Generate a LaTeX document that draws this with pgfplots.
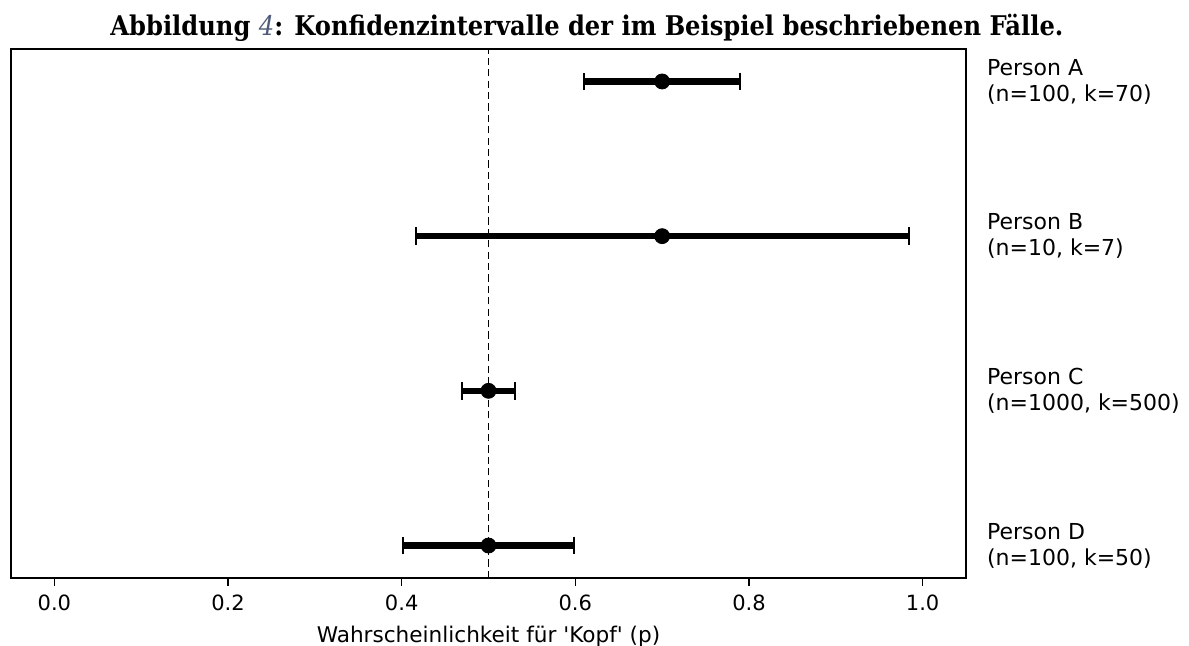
\documentclass[border=0pt]{standalone}
\usepackage{pgfplots}
\pgfplotsset{compat=1.18}
\usepackage{graphicx}
\usepackage{fontspec}
\setmainfont{DejaVu Sans}[Ligatures=TeXOff]
\newfontfamily\titlefont{DejaVu Serif}
\definecolor{refblue}{HTML}{4F5B7A}
\begin{document}
\begin{tikzpicture}
\path[use as bounding box] (0,0) rectangle (594.5pt,323pt);
\node[anchor=base west, inner sep=0pt] at (55pt,305pt)
  {\resizebox{476.5pt}{!}{\scalebox{1}[1.12]{\titlefont\bfseries\fontsize{12.5}{15}\selectfont Abbildung {\color{refblue}\mdseries\itshape 4}: Konfidenzintervalle der im Beispiel beschriebenen Fälle.}}};
\begin{axis}[
  at={(5.5pt,34pt)}, anchor=south west,
  scale only axis, width=477.5pt, height=264.5pt,
  xmin=-0.05, xmax=1.05, ymin=-0.21, ymax=3.21,
  axis line style={line width=0.8pt},
  xtick={0,0.2,0.4,0.6,0.8,1.0},
  xticklabels={0.0,0.2,0.4,0.6,0.8,1.0},
  xtick pos=bottom, tick align=outside,
  major tick length=3.85pt,
  every tick/.style={black, line width=0.8pt},
  xticklabel style={font=\fontsize{10.5}{12.6}\selectfont, inner sep=0pt, yshift=-4.5pt},
  ytick={0,1,2,3},
  yticklabels={{Person D\\(n=100, k=50)},{Person C\\(n=1000, k=500)},{Person B\\(n=10, k=7)},{Person A\\(n=100, k=70)}},
  yticklabel pos=right,
  ytick style={draw=none},
  yticklabel style={anchor=west, inner sep=0pt, xshift=6.5pt, align=left, font=\fontsize{11}{13}\selectfont},
  xlabel={Wahrscheinlichkeit für 'Kopf' (p)},
  xlabel style={at={(axis description cs:0.5,0)}, anchor=base, yshift=-32.5pt, inner sep=0pt, font=\fontsize{10.8}{12.6}\selectfont},
]
\addplot[black, line width=0.9pt, dash pattern=on 3.6pt off 2.1pt] coordinates {(0.5,-0.21) (0.5,3.21)};
\addplot[black, only marks, mark=*, mark size=3.75pt,
  error bars/.cd, x dir=both, x explicit,
  error bar style={line width=3.2pt, black},
  error mark options={rotate=90, mark size=4.4pt, line width=1pt, black}]
  table[x=x, y=y, x error=e] {
  x    y   e
  0.7  3   0.0898
  0.7  2   0.2840
  0.5  1   0.0310
  0.5  0   0.0980
};
\end{axis}
\end{tikzpicture}
\end{document}
